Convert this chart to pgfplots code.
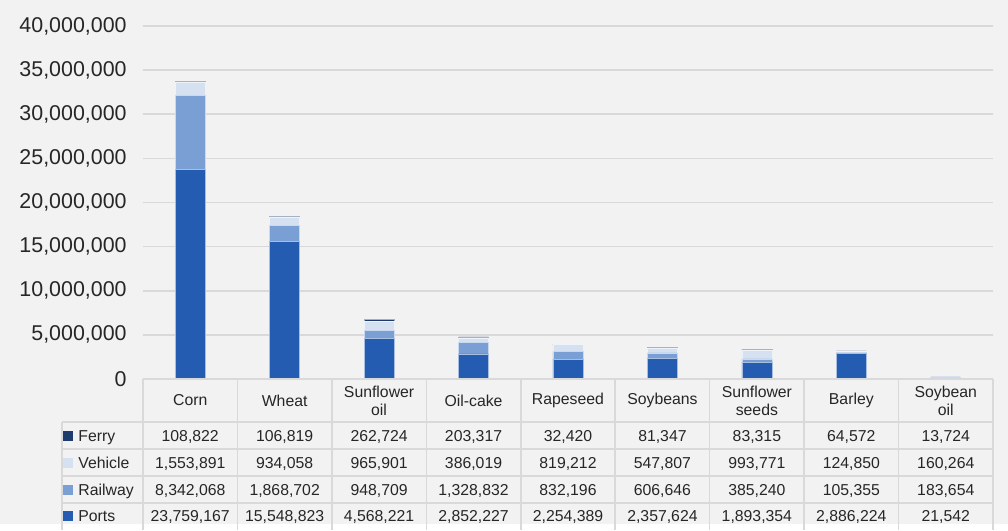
\documentclass[border=0pt]{standalone}
\usepackage{fontspec}
\setmainfont{Liberation Sans}
\usepackage{pgfplots}
\usepackage{pgfplotstable}
\pgfplotsset{compat=1.18}

\definecolor{bgc}{HTML}{F2F2F2}
\definecolor{gridc}{HTML}{D9D9D9}
\definecolor{ports}{HTML}{235CB1}
\definecolor{railway}{HTML}{7A9FD5}
\definecolor{vehicle}{HTML}{D5E0F1}
\definecolor{ferry}{HTML}{1E3B6E}
\definecolor{txt}{HTML}{262626}

% exports by transport mode, tonnes
\pgfplotstableread{
x ports railway vehicle ferry
0 23759167 8342068 1553891 108822
1 15548823 1868702 934058 106819
2 4568221 948709 965901 262724
3 2852227 1328832 386019 203317
4 2254389 832196 819212 32420
5 2357624 606646 547807 81347
6 1893354 385240 993771 83315
7 2886224 105355 124850 64572
8 21542 183654 160264 13724
}\exports

\begin{document}
\begin{tikzpicture}
% background, in pixel units relative to the plot's lower left corner
\begin{scope}[x=0.5pt,y=-0.5pt]
  \fill[bgc] (-143,-379) rectangle (865,145);
  \path[use as bounding box] (-143,-379) rectangle (865,145);
\end{scope}

\begin{axis}[
    at={(0,0)}, anchor=south west,
    scale only axis,
    width=425pt, height=176.5pt,
    xmin=-0.5, xmax=8.5,
    ymin=0, ymax=40000000,
    ytick={0,5000000,10000000,15000000,20000000,25000000,30000000,35000000,40000000},
    xtick=\empty,
    scaled y ticks=false,
    yticklabel style={
      /pgf/number format/.cd, fixed, precision=0, 1000 sep={,}, assume math mode=true,
      /tikz/.cd, font=\fontsize{10.7}{12}\selectfont, text=txt,
      anchor=east, inner sep=0pt, xshift=-8pt},
    axis line style={draw=none},
    tick style={draw=none},
    major tick length=0pt,
    ymajorgrids=true,
    grid style={draw=gridc, line width=0.8pt},
    ybar stacked,
    bar width=15pt,
  ]
  \addplot[fill=ports, draw=white!60!ports, line width=0.3pt] table[x=x, y=ports] {\exports};
  \addplot[fill=railway, draw=white!60!railway, line width=0.3pt] table[x=x, y=railway] {\exports};
  \addplot[fill=vehicle, draw=white!60!vehicle, line width=0.3pt] table[x=x, y=vehicle] {\exports};
  \addplot[fill=ferry, draw=white!60!ferry, line width=0.3pt] table[x=x, y=ferry] {\exports};
\end{axis}

% data table below the plot
\begin{scope}[x=0.5pt,y=-0.5pt, every node/.style={font=\fontsize{7.9}{9}\selectfont, text=txt}]
  \def\cw{94.444}
  \begin{scope}[draw=gridc, line width=0.8pt]
    \draw (0,0) -- (850,0);
    \foreach \k in {0,...,9} \draw (\k*\cw,0) -- (\k*\cw,151);
    \draw (-81,43) -- (-81,151);
    \foreach \yy in {43,70,97,124} \draw (-81,\yy) -- (850,\yy);
  \end{scope}
  \foreach \lab [count=\i from 0] in {Corn,Wheat,Sunflower\\oil,Oil-cake,Rapeseed,Soybeans,Sunflower\\seeds,Barley,Soybean\\oil}
    \node[align=center] at ({(\i+0.5)*\cw},21.5) {\lab};
  \foreach \col/\name/\yy in {ferry/Ferry/57, vehicle/Vehicle/83.5, railway/Railway/110.5, ports/Ports/137} {
    \fill[\col] (-80,\yy-5) rectangle (-70,\yy+5);
    \node[anchor=base west, inner sep=0pt] at (-65,\yy+5.7) {\name};
    \foreach \i in {0,...,8}
      \node[anchor=base, inner sep=0pt] at ({(\i+0.5)*\cw},\yy+5.7) {\pgfplotstablegetelem{\i}{\col}\of\exports\pgfmathprintnumber[fixed, precision=0, 1000 sep={,}, assume math mode=true]{\pgfplotsretval}};
  }
\end{scope}
\end{tikzpicture}
\end{document}
